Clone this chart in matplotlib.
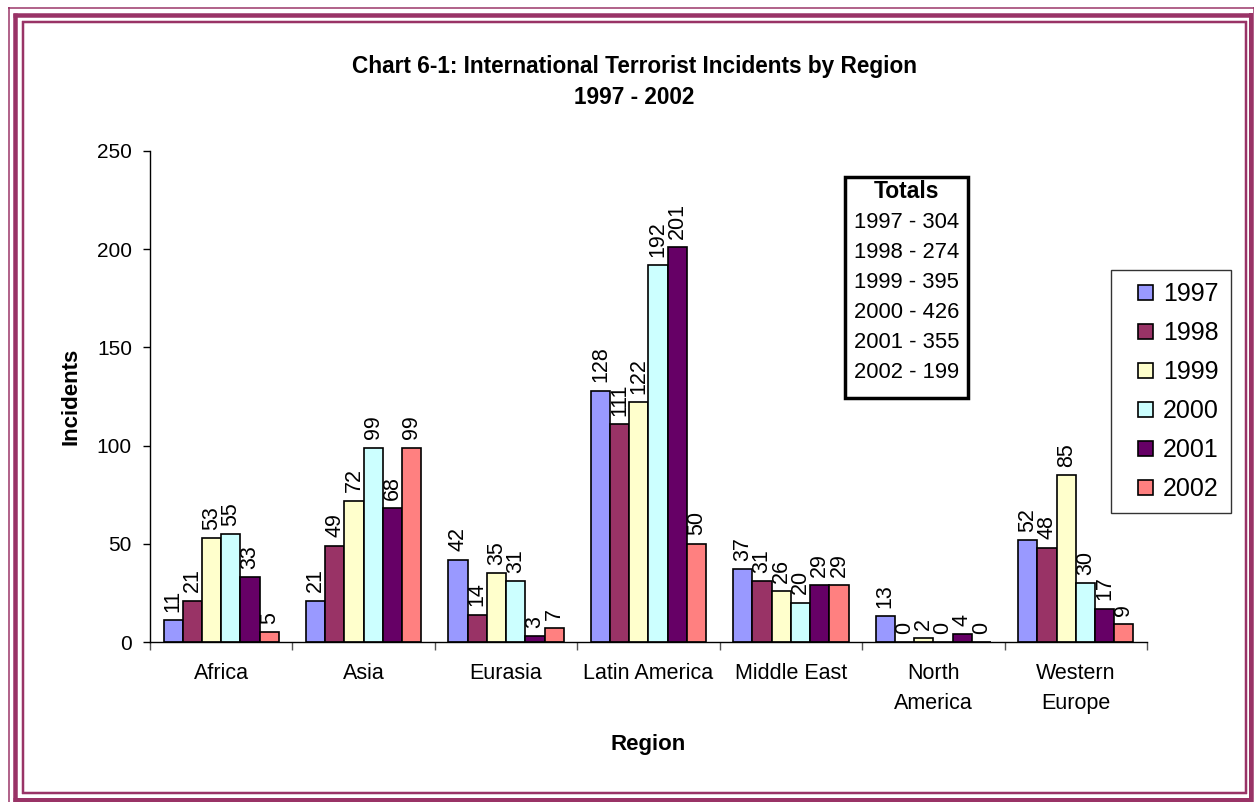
import matplotlib
matplotlib.use("Agg")
import matplotlib.pyplot as plt
from matplotlib.patches import Rectangle
from matplotlib.lines import Line2D
import numpy as np

plt.rcParams['font.family'] = ['Liberation Sans', 'DejaVu Sans']

# ---- data -------------------------------------------------------------
regions = ["Africa", "Asia", "Eurasia", "Latin America", "Middle East",
           "North\nAmerica", "Western\nEurope"]
years = ["1997", "1998", "1999", "2000", "2001", "2002"]
incidents_1997 = [11, 21, 42, 128, 37, 13, 52]
incidents_1998 = [21, 49, 14, 111, 31, 0, 48]
incidents_1999 = [53, 72, 35, 122, 26, 2, 85]
incidents_2000 = [55, 99, 31, 192, 20, 0, 30]
incidents_2001 = [33, 68, 3, 201, 29, 4, 17]
incidents_2002 = [5, 99, 7, 50, 29, 0, 9]
totals = [304, 274, 395, 426, 355, 199]
yticks = [0, 50, 100, 150, 200, 250]

series = [incidents_1997, incidents_1998, incidents_1999,
          incidents_2000, incidents_2001, incidents_2002]
colors = ["#9999FF", "#993366", "#FFFFCC", "#CCFFFF", "#660066", "#FF8080"]

W, H = 1254, 802
fig = plt.figure(figsize=(W / 100, H / 100), dpi=100)
fig.patch.set_facecolor("white")

# axes placed in pixel terms
ax_l, ax_r, ax_t, ax_b = 150, 1147, 151, 642
ax = fig.add_axes([ax_l / W, 1 - ax_b / H, (ax_r - ax_l) / W, (ax_b - ax_t) / H])

n = len(regions)
x = np.arange(n)
bw = 0.135
offsets = (np.arange(len(years)) - (len(years) - 1) / 2) * bw

for i, (vals, col, yr) in enumerate(zip(series, colors, years)):
    ax.bar(x + offsets[i], vals, width=bw, color=col,
           edgecolor="black", linewidth=1.2, label=yr, zorder=2)
    for xb, v in zip(x + offsets[i], vals):
        ax.annotate(str(v), (xb, v), xytext=(0, 6), textcoords="offset points",
                    rotation=90, ha="center", va="bottom", fontsize=15.5,
                    color="black")

ax.set_xlim(-0.5, n - 0.5)
ax.set_ylim(0, 250)
ax.set_yticks(yticks)
ax.tick_params(axis="y", labelsize=15, length=5, width=1, direction="out", pad=8)
ax.set_xticks(x)
ax.set_xticklabels(regions, fontsize=15.5, linespacing=1.55)
ax.tick_params(axis="x", which="major", length=0, pad=15)
ax.set_xticks(np.arange(-0.5, n, 1.0), minor=True)
ax.tick_params(axis="x", which="minor", length=6, width=1, direction="out",
               color="#555555")
for s in ("top", "right"):
    ax.spines[s].set_visible(False)
ax.spines["left"].set_linewidth(1)
ax.spines["bottom"].set_linewidth(1)

ax.set_ylabel("Incidents", fontsize=16, fontweight="bold", labelpad=11)
ax.set_xlabel("Region", fontsize=16, fontweight="bold", labelpad=15)

# title
fig.text(634 / W, 1 - 67 / H, "Chart 6-1: International Terrorist Incidents by Region",
         ha="center", va="center", fontsize=16.3, fontweight="bold")
fig.text(634 / W, 1 - 97 / H, "1997 - 2002", ha="center", va="center",
         fontsize=16.3, fontweight="bold")

# legend with square keys
handles = [Line2D([], [], linestyle="none", marker="s", markersize=10.8,
                  markerfacecolor=c, markeredgecolor="black",
                  markeredgewidth=1.2) for c in colors]
leg = ax.legend(handles, years, loc="upper left",
                bbox_to_anchor=((1111 - ax_l) / (ax_r - ax_l),
                                1 - (270 - ax_t) / (ax_b - ax_t)),
                bbox_transform=ax.transAxes,
                fontsize=18, frameon=True, fancybox=False, borderpad=0.48,
                labelspacing=0.6, handlelength=1.8, handleheight=0.7,
                handletextpad=-0.2, borderaxespad=0)
leg.get_frame().set_edgecolor("black")
leg.get_frame().set_linewidth(1)

# totals box
box_l, box_r, box_t, box_b = 845, 968, 177, 398
fig.patches.append(Rectangle((box_l / W, 1 - box_b / H), (box_r - box_l) / W,
                             (box_b - box_t) / H, transform=fig.transFigure,
                             facecolor="white", edgecolor="black", linewidth=2.5,
                             zorder=5))
cx = (box_l + box_r) / 2 / W
fig.text(cx, 1 - 192 / H, "Totals", ha="center", va="center", fontsize=16.5,
         fontweight="bold", zorder=6)
for k, (yr, tot) in enumerate(zip(years, totals)):
    fig.text(cx, 1 - (222 + 30 * k) / H, f"{yr} - {tot}", ha="center",
             va="center", fontsize=15.8, zorder=6)

# decorative page border (plum triple line)
plum = "#993366"
def hline(y, x0, x1, lw):
    fig.add_artist(Line2D([x0 / W, x1 / W], [1 - y / H, 1 - y / H],
                          transform=fig.transFigure, color=plum, linewidth=lw,
                          solid_capstyle="butt"))
def vline(xp, y0, y1, lw):
    fig.add_artist(Line2D([xp / W, xp / W], [1 - y0 / H, 1 - y1 / H],
                          transform=fig.transFigure, color=plum, linewidth=lw,
                          solid_capstyle="butt"))

px = 0.72  # one pixel in points
# outer thin
hline(7.5, 8, 1254, 1.5 * px)
vline(8.5, 7, 802, 1.5 * px)
vline(1253.5, 7, 802, 1.5 * px)
# thick middle
hline(15, 13, 1252, 4.5 * px)
hline(799.5, 13, 1252, 5 * px)
vline(15, 13, 802, 4.5 * px)
vline(1250.5, 13, 802, 4 * px)
# inner thin
hline(21.5, 22, 1246.5, 2.5 * px)
hline(793, 22, 1246.5, 2.5 * px)
vline(23, 20.5, 794, 2.5 * px)
vline(1245.5, 20.5, 794, 2.5 * px)

fig.savefig("out.png", dpi=100, facecolor="white")
